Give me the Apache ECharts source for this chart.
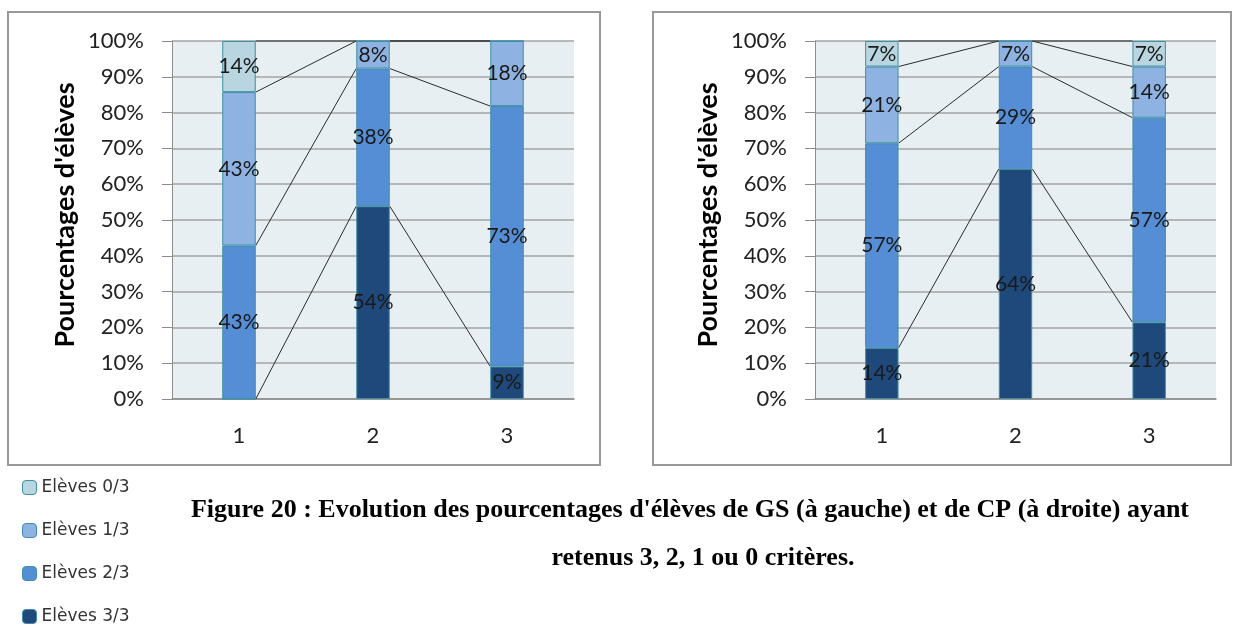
<!DOCTYPE html>
<html>
<head>
<meta charset="utf-8">
<script src="https://cdn.jsdelivr.net/npm/echarts@6/dist/echarts.min.js"></script>
<style>
  html, body { margin: 0; padding: 0; background: #fff; }
  #main { width: 1239px; height: 625px; }
</style>
</head>
<body>
<div id="main"></div>
<script>
var mychart = echarts.init(document.getElementById('main'));

// categories (number of the session)
var categories = ['1', '2', '3'];
var seriesNames = ['Elèves 0/3', 'Elèves 1/3', 'Elèves 2/3', 'Elèves 3/3'];
var yTicks = [0, 10, 20, 30, 40, 50, 60, 70, 80, 90, 100];

// GS (left chart), percentages
var gs_0 = [14.29, 0, 0];
var gs_1 = [42.86, 7.69, 18.18];
var gs_2 = [42.86, 38.46, 72.73];
var gs_3 = [0, 53.85, 9.09];

// CP (right chart)
var cp_0 = [7.14, 0, 7.14];
var cp_1 = [21.43, 7.14, 14.29];
var cp_2 = [57.14, 28.57, 57.14];
var cp_3 = [14.29, 64.29, 21.43];

var colors = ['#b9d5df', '#8eb3e2', '#558ed5', '#1f487b'];
const fontName = 'Lato';

// stacks go bottom -> top : 3/3, 2/3, 1/3, 0/3
function buildSeries(vals, idx) {
    let out = [];
    let order = [3, 2, 1, 0];
    for (let k of order) {
        out.push({
            name: seriesNames[k],
            type: 'bar',
            stack: 'tot' + idx,
            xAxisIndex: idx,
            yAxisIndex: idx,
            barWidth: '25%',
            data: vals[k],
            itemStyle: { color: colors[k], borderColor: '#3f8fa6', borderWidth: 1 },
            label: {
                show: true,
                position: 'inside',
                color: '#1a1a1a',
                fontFamily: fontName,
                fontSize: 21,
                formatter: function(p) {
                    return p.value > 0 ? Math.round(p.value) + '%' : '';
                }
            },
            emphasis: { disabled: true },
            z: 3
        });
    }
    // series lines: join the top of each stack level between bars
    let segs = [];
    for (let k of order) {
        // cumulative top of level k in each bar
        let tops = [];
        for (let c = 0; c < categories.length; c++) {
            let s = 0;
            for (let j = 3; j >= k; j--) s += vals[j][c];
            tops.push(Math.min(s, 100));
        }
        for (let c = 0; c < categories.length - 1; c++) {
            segs.push([c, tops[c], tops[c + 1]]);
        }
    }
    out.push({
        type: 'custom',
        xAxisIndex: idx,
        yAxisIndex: idx,
        data: segs,
        silent: true,
        z: 2,
        renderItem: function(params, api) {
            let c = api.value(0);
            let p1 = api.coord([c, api.value(1)]);
            let p2 = api.coord([c + 1, api.value(2)]);
            let half = api.size([1, 0])[0] * 0.25 / 2;
            return {
                type: 'line',
                shape: { x1: p1[0] + half, y1: p1[1], x2: p2[0] - half, y2: p2[1] },
                style: { stroke: '#2b2b2b', lineWidth: 1 }
            };
        }
    });
    return out;
}

function yAxis(idx) {
    return {
        type: 'value',
        gridIndex: idx,
        min: 0, max: 100, interval: 10,
        name: "Pourcentages d'élèves",
        nameLocation: 'middle',
        nameGap: 93,
        nameTextStyle: { fontFamily: fontName, fontWeight: 'bold', fontSize: 27, color: '#000', padding: [0, 0, 0, 10] },
        axisLine: { show: true, lineStyle: { color: '#8c8c8c', width: 1 } },
        axisTick: { show: true, length: 10, lineStyle: { color: '#8c8c8c' } },
        axisLabel: { formatter: '{value}%', fontFamily: fontName, fontSize: 22, color: '#222', margin: 28 },
        splitLine: { show: true, lineStyle: { color: '#a3a3a3', width: 1.5 } }
    };
}

function xAxis(idx) {
    return {
        type: 'category',
        gridIndex: idx,
        data: categories,
        axisLine: { show: true, lineStyle: { color: '#8c8c8c', width: 1.5 } },
        axisTick: { show: false },
        axisLabel: { fontFamily: fontName, fontSize: 22, color: '#222', margin: 26 }
    };
}

var series = buildSeries([gs_0, gs_1, gs_2, gs_3], 0).concat(buildSeries([cp_0, cp_1, cp_2, cp_3], 1));

var option = {
    animation: false,
    grid: [
        { left: 172, top: 41, width: 402, height: 358, show: true, backgroundColor: '#e8eff3', borderWidth: 0 },
        { left: 815, top: 41, width: 401, height: 358, show: true, backgroundColor: '#e8eff3', borderWidth: 0 }
    ],
    xAxis: [xAxis(0), xAxis(1)],
    yAxis: [yAxis(0), yAxis(1)],
    legend: {
        orient: 'vertical',
        left: 22,
        top: 479,
        height: 220,
        padding: 0,
        itemWidth: 14,
        itemHeight: 14,
        itemGap: 26,
        data: seriesNames,
        textStyle: { fontFamily: 'DejaVu Sans', fontSize: 17, color: '#333' },
        itemStyle: { borderColor: '#3f8fa6', borderWidth: 1 }
    },
    graphic: [
        { type: 'rect', shape: { x: 8, y: 12, width: 592, height: 453 }, style: { fill: 'none', stroke: '#999', lineWidth: 2 }, z: -1 },
        { type: 'rect', shape: { x: 653, y: 12, width: 578, height: 453 }, style: { fill: 'none', stroke: '#999', lineWidth: 2 }, z: -1 },
        { type: 'text', top: 497,
          style: { text: "Figure 20 : Evolution des pourcentages d'élèves de GS (à gauche) et de CP (à droite) ayant",
                   x: 690, font: 'bold 26px "Liberation Serif"', fill: '#000', textAlign: 'center' } },
        { type: 'text', top: 545,
          style: { text: 'retenus 3, 2, 1 ou 0 critères.', x: 703, font: 'bold 26px "Liberation Serif"', fill: '#000', textAlign: 'center' } }
    ],
    series: series
};

mychart.setOption(option);
</script>
</body>
</html>
